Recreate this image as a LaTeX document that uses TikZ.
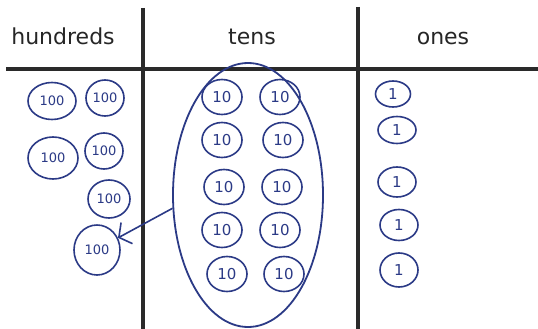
\documentclass[tikz,border=0pt]{standalone}
\usepackage{fontspec}
\setmainfont{DejaVu Sans}
\usetikzlibrary{shapes.geometric,arrows.meta}
\definecolor{ink}{HTML}{2B3A86}
\definecolor{rulec}{HTML}{2A2A2A}
\begin{document}
\begin{tikzpicture}[x=1pt,y=-1pt,
  coin/.style={ellipse, draw=ink, line width=1.6pt, inner sep=0pt, text=ink,
    font=\fontsize{15}{15}\selectfont},
  hcoin/.style={coin, font=\fontsize{13}{13}\selectfont},
  header/.style={anchor=base, text=black!85, font=\fontsize{22}{22}\selectfont},
  rulel/.style={draw=rulec, line width=3.8pt},
  group/.style={ellipse, draw=ink, line width=1.8pt, inner sep=0pt,
    minimum width=150pt, minimum height=264pt}]
\useasboundingbox (0,0) rectangle (538,329);
\fill[white] (0,0) rectangle (538,329);
% table rules
\coordinate (hl) at (6,69);
\coordinate (hr) at (538,69);
\coordinate (v1t) at (143,8);
\coordinate (v1b) at (143,329);
\coordinate (v2t) at (358,7);
\coordinate (v2b) at (358,329);
\draw[rulel] (hl) -- (hr);
\draw[rulel] (v1t) -- (v1b);
\draw[rulel] (v2t) -- (v2b);
% headers
\node[header] (hdh) at (63,45) {hundreds};
\node[header] (hdt) at (252,45) {tens};
\node[header] (hdo) at (443,45) {ones};
% hundreds
\node[hcoin, minimum width=48pt, minimum height=37pt] (h1) at (52,101) {100};
\node[hcoin, minimum width=38pt, minimum height=36pt] (h2) at (105,98) {100};
\node[hcoin, minimum width=50pt, minimum height=42pt] (h3) at (53,158) {100};
\node[hcoin, minimum width=38pt, minimum height=36pt] (h4) at (104,151) {100};
\node[hcoin, minimum width=42pt, minimum height=38pt] (h5) at (109,199) {100};
\node[hcoin, minimum width=46pt, minimum height=50pt] (h6) at (97,250) {100};
% tens
\node[group] (grp) at (248,195) {};
\node[coin, minimum width=40pt, minimum height=35pt] (t1) at (222,97) {10};
\node[coin, minimum width=40pt, minimum height=35pt] (t2) at (280,97) {10};
\node[coin, minimum width=40pt, minimum height=35pt] (t3) at (222,140) {10};
\node[coin, minimum width=40pt, minimum height=35pt] (t4) at (283,140) {10};
\node[coin, minimum width=40pt, minimum height=35pt] (t5) at (224,187) {10};
\node[coin, minimum width=40pt, minimum height=35pt] (t6) at (282,187) {10};
\node[coin, minimum width=40pt, minimum height=35pt] (t7) at (222,230) {10};
\node[coin, minimum width=40pt, minimum height=35pt] (t8) at (280,230) {10};
\node[coin, minimum width=40pt, minimum height=35pt] (t9) at (227,274) {10};
\node[coin, minimum width=40pt, minimum height=35pt] (t10) at (284,274) {10};
% ones
\node[coin, minimum width=35pt, minimum height=26pt] (o1) at (393,94) {1};
\node[coin, minimum width=38pt, minimum height=27pt] (o2) at (397,130) {1};
\node[coin, minimum width=38pt, minimum height=30pt] (o3) at (397,182) {1};
\node[coin, minimum width=38pt, minimum height=31pt] (o4) at (399,225) {1};
\node[coin, minimum width=38pt, minimum height=34pt] (o5) at (399,270) {1};
% arrow
\draw[draw=ink, line width=1.6pt, -{Straight Barb[length=9pt,width=24pt]}] (grp.190) -- (h6.30);
\end{tikzpicture}
\end{document}
